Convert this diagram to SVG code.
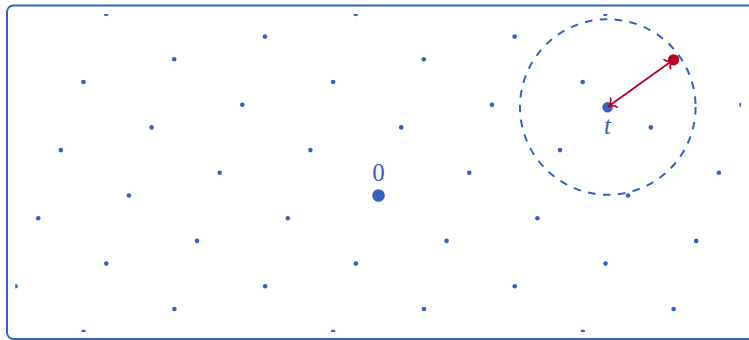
<svg xmlns="http://www.w3.org/2000/svg" width="749" height="340" viewBox="0 0 749 340">
  <style>
    .frame { fill: none; stroke: #3562C1; stroke-width: 2; }
    .pt { fill: #3562C1; }
    .big { fill: #3562C1; }
    .red { fill: #BC0025; }
    .circ { fill: none; stroke: #3562C1; stroke-width: 2; stroke-dasharray: 7.6 7.4; }
    .arrow { stroke: #BC0025; stroke-width: 1.8; fill: none; }
    .lbl { font-family: "Liberation Serif", "DejaVu Serif", serif; font-size: 25px; fill: #3562C1; text-anchor: middle; }
  </style>
  <defs>
    <clipPath id="clip">
      <rect x="15.2" y="14" width="725.9" height="318"/>
    </clipPath>
    <marker id="tip" markerUnits="userSpaceOnUse" viewBox="-10 -10 20 20" refX="0" refY="0" markerWidth="20" markerHeight="20" orient="auto-start-reverse" overflow="visible">
      <path d="M -6.8,-5.6 C -6.2,-2.6 -2.6,-0.35 0.4,0 C -2.6,0.35 -6.2,2.6 -6.8,5.6" fill="none" stroke="#BC0025" stroke-width="1.7" stroke-linecap="round"/>
    </marker>
  </defs>

  <g id="frame">
    <rect class="frame" x="7" y="5.5" width="748" height="333.5" rx="6.5" ry="6.5"/>
  </g>

  <g id="lattice" clip-path="url(#clip)">
    <circle class="pt" cx="106.1" cy="13.9" r="2.3"/>
    <circle class="pt" cx="355.7" cy="13.9" r="2.3"/>
    <circle class="pt" cx="605.3" cy="13.9" r="2.3"/>

    <circle class="pt" cx="265.0" cy="36.6" r="2.3"/>
    <circle class="pt" cx="514.6" cy="36.6" r="2.3"/>

    <circle class="pt" cx="174.2" cy="59.3" r="2.3"/>
    <circle class="pt" cx="423.8" cy="59.3" r="2.3"/>
    <circle class="pt" cx="673.4" cy="59.3" r="2.3"/>

    <circle class="pt" cx="83.5" cy="82.0" r="2.3"/>
    <circle class="pt" cx="333.1" cy="82.0" r="2.3"/>
    <circle class="pt" cx="582.7" cy="82.0" r="2.3"/>

    <circle class="pt" cx="242.3" cy="104.7" r="2.3"/>
    <circle class="pt" cx="491.9" cy="104.7" r="2.3"/>
    <circle class="pt" cx="741.5" cy="104.7" r="2.3"/>

    <circle class="pt" cx="151.6" cy="127.4" r="2.3"/>
    <circle class="pt" cx="401.2" cy="127.4" r="2.3"/>
    <circle class="pt" cx="650.8" cy="127.4" r="2.3"/>

    <circle class="pt" cx="60.8" cy="150.1" r="2.3"/>
    <circle class="pt" cx="310.4" cy="150.1" r="2.3"/>
    <circle class="pt" cx="560.0" cy="150.1" r="2.3"/>

    <circle class="pt" cx="219.7" cy="172.8" r="2.3"/>
    <circle class="pt" cx="469.3" cy="172.8" r="2.3"/>
    <circle class="pt" cx="718.9" cy="172.8" r="2.3"/>

    <circle class="pt" cx="128.9" cy="195.5" r="2.3"/>
    <circle class="pt" cx="628.1" cy="195.5" r="2.3"/>

    <circle class="pt" cx="38.2" cy="218.2" r="2.3"/>
    <circle class="pt" cx="287.8" cy="218.2" r="2.3"/>
    <circle class="pt" cx="537.4" cy="218.2" r="2.3"/>

    <circle class="pt" cx="197.0" cy="240.9" r="2.3"/>
    <circle class="pt" cx="446.6" cy="240.9" r="2.3"/>
    <circle class="pt" cx="696.2" cy="240.9" r="2.3"/>

    <circle class="pt" cx="106.3" cy="263.6" r="2.3"/>
    <circle class="pt" cx="355.9" cy="263.6" r="2.3"/>
    <circle class="pt" cx="605.5" cy="263.6" r="2.3"/>

    <circle class="pt" cx="15.5" cy="286.3" r="2.3"/>
    <circle class="pt" cx="265.1" cy="286.3" r="2.3"/>
    <circle class="pt" cx="514.7" cy="286.3" r="2.3"/>

    <circle class="pt" cx="174.4" cy="309.0" r="2.3"/>
    <circle class="pt" cx="424.0" cy="309.0" r="2.3"/>
    <circle class="pt" cx="673.6" cy="309.0" r="2.3"/>

    <circle class="pt" cx="83.6" cy="331.7" r="2.3"/>
    <circle class="pt" cx="333.2" cy="331.7" r="2.3"/>
    <circle class="pt" cx="582.8" cy="331.7" r="2.3"/>
  </g>

  <g id="origin">
    <circle class="big" cx="378.5" cy="195.5" r="6.3"/>
    <text class="lbl" x="378.5" y="181">0</text>
  </g>

  <g id="ball">
    <circle class="circ" cx="607.8" cy="107" r="87.8"/>
  </g>

  <g id="t">
    <circle class="big" cx="607.6" cy="107.2" r="5.2"/>
    <text class="lbl" x="607.5" y="134" font-style="italic">t</text>
  </g>

  <g id="closest">
    <circle class="red" cx="673.6" cy="59.8" r="5.6"/>
  </g>

  <g id="connectors">
    <line class="arrow" x1="608.2" y1="106.6" x2="672.8" y2="60.2" marker-start="url(#tip)" marker-end="url(#tip)"/>
  </g>
</svg>
